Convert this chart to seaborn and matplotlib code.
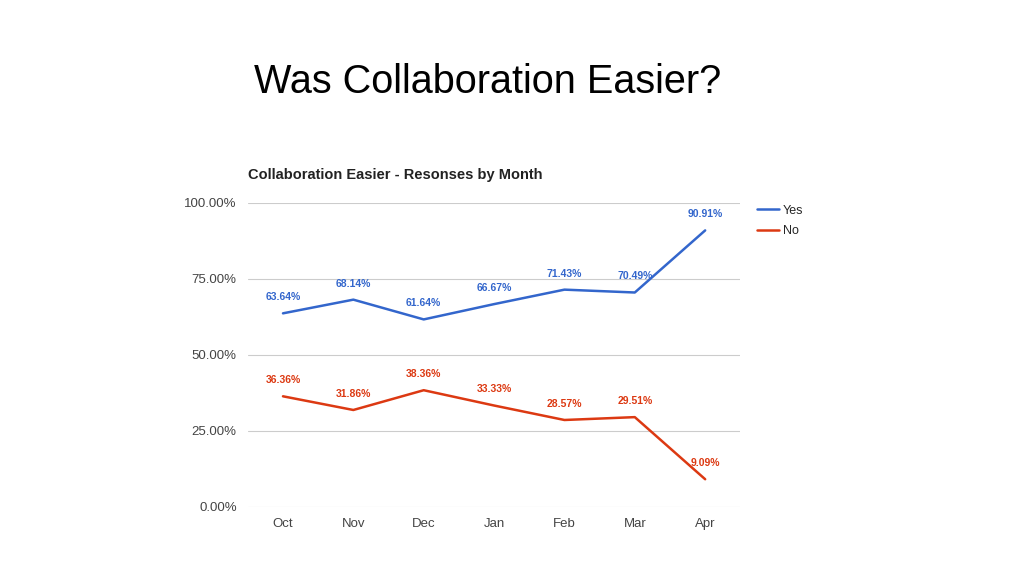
import matplotlib
matplotlib.use("Agg")
import matplotlib.pyplot as plt
import seaborn as sns
import pandas as pd

# -------------------
# DATA
# -------------------
months = ["Oct", "Nov", "Dec", "Jan", "Feb", "Mar", "Apr"]
yes_pct = [63.64, 68.14, 61.64, 66.67, 71.43, 70.49, 90.91]
no_pct = [36.36, 31.86, 38.36, 33.33, 28.57, 29.51, 9.09]
y_ticks = [0, 25, 50, 75, 100]

series_names = ["Yes", "No"]
series_colors = {"Yes": "#3366CC", "No": "#DC3912"}

df = pd.DataFrame({
    "month": months * 2,
    "pct": yes_pct + no_pct,
    "answer": ["Yes"] * len(months) + ["No"] * len(months),
})

# -------------------
# PLOT
# -------------------
sns.set_style("white")
plt.rcParams["font.family"] = ["Liberation Sans", "DejaVu Sans"]

fig = plt.figure(figsize=(10.24, 5.76), dpi=100)
ax = fig.add_axes([0.242, 0.120, 0.481, 0.528])

sns.lineplot(data=df, x="month", y="pct", hue="answer", hue_order=series_names,
             palette=series_colors, linewidth=1.8, sort=False, ax=ax, legend=False)

# data labels
for name, vals in [("Yes", yes_pct), ("No", no_pct)]:
    for i, v in enumerate(vals):
        ax.annotate(f"{v:.2f}%", (i, v), xytext=(0, 8), textcoords="offset points",
                    ha="center", va="bottom", fontsize=7.5, fontweight="bold",
                    color=series_colors[name])

ax.set_xlim(-0.5, len(months) - 0.5)
ax.set_ylim(0, 100)
ax.set_yticks(y_ticks)
ax.set_yticklabels([f"{t:.2f}%" for t in y_ticks])
ax.grid(axis="y", color="#cccccc", linewidth=0.8)
ax.set_axisbelow(True)
for s in ax.spines.values():
    s.set_visible(False)
ax.tick_params(axis="both", length=0, labelsize=9.5, colors="#444444")
ax.tick_params(axis="y", pad=8)
ax.tick_params(axis="x", pad=8)
ax.set_xlabel("")
ax.set_ylabel("")

# legend
handles = [plt.Line2D([], [], color=series_colors[n], linewidth=1.8) for n in series_names]
fig.legend(handles, series_names, loc="upper left", bbox_to_anchor=(0.728, 0.664),
           frameon=False, fontsize=9, handlelength=1.8, handletextpad=0.3,
           labelspacing=0.65)

fig.text(0.242, 0.690, "Collaboration Easier - Resonses by Month", fontsize=10.5,
         fontweight="bold", ha="left", va="baseline", color="#222222")
fig.text(0.476, 0.858, "Was Collaboration Easier?", fontsize=28.5, ha="center",
         va="center", color="black")

fig.savefig("out.png", dpi=100)
